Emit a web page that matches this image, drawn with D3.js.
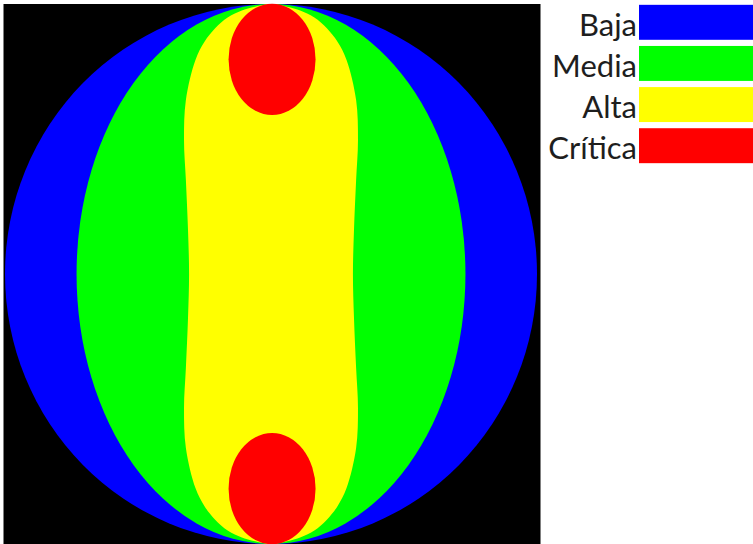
<!DOCTYPE html>
<html>
<head>
<meta charset="utf-8">
<script src="https://cdn.jsdelivr.net/npm/d3@7/dist/d3.min.js"></script>
<style>
  html, body { margin: 0; padding: 0; background: #fff; }
  svg { display: block; }
</style>
</head>
<body>
<svg id="chart" width="753" height="544"></svg>
<script>
// ---- Data ----
const categories = ["Baja", "Media", "Alta", "Crítica"];
const categoryColors = ["#0000ff", "#00ff00", "#ffff00", "#ff0000"];

// Zone extents in normalised units (domain -1..1 on both axes)
const bajaRadii = [1, 1];          // [rx, ry]
const mediaRadii = [0.731, 1];     // [rx, ry]
// Alta boundary: [v, halfWidth] for the upper half (v from -1 to 0), mirrored below
const altaProfileV = [-1, -0.99, -0.975, -0.95, -0.91, -0.86, -0.793, -0.644, -0.496, -0.348, -0.163, 0];
const altaProfileU = [0, 0.06, 0.112, 0.163, 0.21, 0.25, 0.284, 0.320, 0.327, 0.320, 0.312, 0.308];
// Crítica spots: centre v, rx, ry
const criticaCentersV = [-0.795, 0.795];
const criticaRadii = [0.1635, 0.206];

// ---- Layout ----
const svg = d3.select("#chart");
const x = d3.scaleLinear().domain([-1, 1]).range([5, 537]);
const y = d3.scaleLinear().domain([-1, 1]).range([4, 544]);
const kx = (x(1) - x(-1)) / 2;
const ky = (y(1) - y(-1)) / 2;

svg.append("rect")
  .attr("x", 3.5).attr("y", 4)
  .attr("width", 537).attr("height", 540)
  .attr("fill", "#000");

// Baja
svg.append("ellipse")
  .attr("cx", x(0)).attr("cy", y(0))
  .attr("rx", bajaRadii[0] * kx).attr("ry", bajaRadii[1] * ky)
  .attr("fill", categoryColors[0]);

// Media
svg.append("ellipse")
  .attr("cx", x(0)).attr("cy", y(0))
  .attr("rx", mediaRadii[0] * kx).attr("ry", mediaRadii[1] * ky)
  .attr("fill", categoryColors[1]);

// Alta
const right = [];
altaProfileV.forEach((v, i) => right.push([altaProfileU[i], v]));
for (let i = altaProfileV.length - 2; i >= 0; i--) right.push([altaProfileU[i], -altaProfileV[i]]);
const pts = right.slice();
for (let i = right.length - 2; i >= 1; i--) pts.push([-right[i][0], right[i][1]]);
const line = d3.line().x(d => x(d[0])).y(d => y(d[1])).curve(d3.curveCatmullRomClosed.alpha(0.5));
svg.append("path")
  .attr("d", line(pts))
  .attr("fill", categoryColors[2]);

// Crítica
svg.selectAll("ellipse.crit")
  .data(criticaCentersV)
  .join("ellipse")
  .attr("class", "crit")
  .attr("cx", x(0.004)).attr("cy", d => y(d))
  .attr("rx", criticaRadii[0] * kx).attr("ry", criticaRadii[1] * ky)
  .attr("fill", categoryColors[3]);

// ---- Legend ----
const ly = d3.scaleBand().domain(categories).range([4, 164]).paddingInner(0.15).paddingOuter(0.02);
const lg = svg.append("g");
lg.selectAll("rect")
  .data(categories)
  .join("rect")
  .attr("x", 639)
  .attr("y", d => ly(d))
  .attr("width", 120)
  .attr("height", ly.bandwidth())
  .attr("fill", (d, i) => categoryColors[i]);
lg.selectAll("text")
  .data(categories)
  .join("text")
  .attr("x", 637)
  .attr("y", d => ly(d) + ly.bandwidth() - 4)
  .attr("text-anchor", "end")
  .attr("font-family", "Lato, 'Open Sans', sans-serif")
  .attr("font-size", 31)
  .attr("fill", "#1e1e1e")
  .text(d => d);
</script>
</body>
</html>
